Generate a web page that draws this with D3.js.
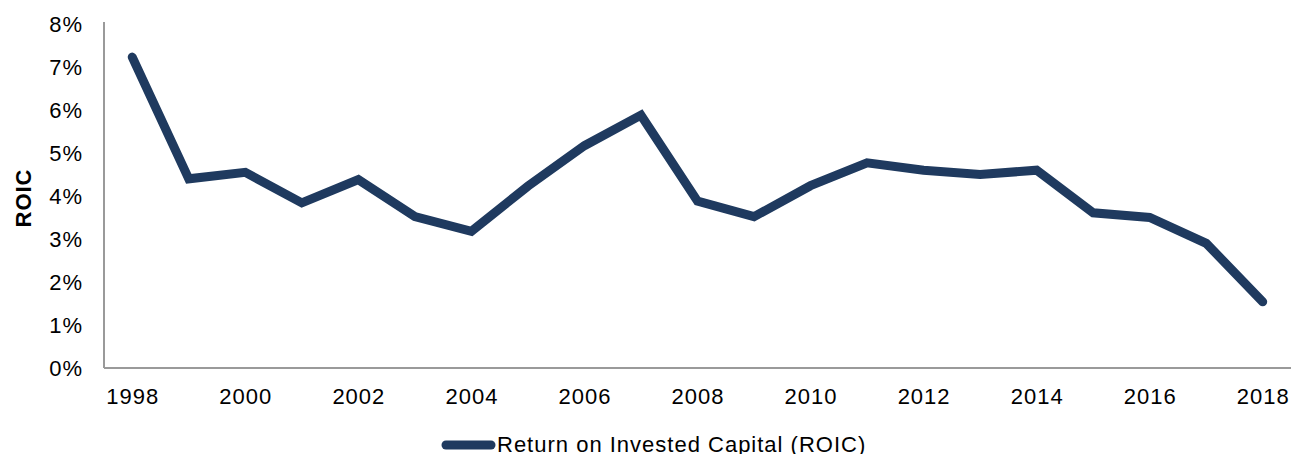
<!DOCTYPE html>
<html>
<head>
<meta charset="utf-8">
<script src="https://cdn.jsdelivr.net/npm/d3@7"></script>
<style>
  body { margin: 0; background: #fff; }
  text { font-family: "Liberation Sans", Arial, sans-serif; fill: #000; }
</style>
</head>
<body>
<div id="chart"></div>
<script>
// data
var years = ["1998","1999","2000","2001","2002","2003","2004","2005","2006","2007","2008",
             "2009","2010","2011","2012","2013","2014","2015","2016","2017","2018"];
var roic = [7.23, 4.40, 4.55, 3.84, 4.38, 3.52, 3.18, 4.23, 5.17, 5.88, 3.88,
            3.52, 4.24, 4.77, 4.60, 4.50, 4.60, 3.61, 3.50, 2.90, 1.54];
var yTicks = [0, 1, 2, 3, 4, 5, 6, 7, 8];
var xLabels = ["1998","2000","2002","2004","2006","2008","2010","2012","2014","2016","2018"];
var seriesName = "Return on Invested Capital (ROIC)";

var svgWidth = 1292, svgHeight = 454;
var margin = {top: 24, right: 1, bottom: 86, left: 104};
var chartWidth = svgWidth - margin.left - margin.right;
var chartHeight = svgHeight - margin.top - margin.bottom;

var svg = d3.select("#chart").append("svg")
    .attr("width", svgWidth)
    .attr("height", svgHeight);

var chartGroup = svg.append("g")
    .attr("transform", `translate(${margin.left}, ${margin.top})`);

var x = d3.scalePoint()
    .domain(years)
    .range([0, chartWidth])
    .padding(0.5);

var y = d3.scaleLinear()
    .domain([0, 8])
    .range([chartHeight, 0]);

// y axis
var yAxis = d3.axisLeft(y)
    .tickValues(yTicks)
    .tickSize(0)
    .tickPadding(21)
    .tickFormat(d => d + "%");
var yg = chartGroup.append("g").call(yAxis);
yg.select(".domain").attr("stroke", "#9a9a9a").attr("stroke-width", 2).attr("d", `M0,-2V${chartHeight}`);
yg.selectAll("text").style("font-size", "22px").style("letter-spacing", "1px").attr("dy", "0.35em");

// x axis
var xAxis = d3.axisBottom(x)
    .tickValues(xLabels)
    .tickSize(0)
    .tickPadding(20);
var xg = chartGroup.append("g")
    .attr("transform", `translate(0, ${chartHeight})`)
    .call(xAxis);
xg.select(".domain").attr("stroke", "#9a9a9a").attr("stroke-width", 2).attr("d", `M0,0H${chartWidth}`);
xg.selectAll("text").style("font-size", "22px").style("letter-spacing", "1px");

// line
var line = d3.line()
    .x((d, i) => x(years[i]))
    .y(d => y(d));

chartGroup.append("path")
    .datum(roic)
    .attr("fill", "none")
    .attr("stroke", "#1f3a5f")
    .attr("stroke-width", 9)
    .attr("stroke-linejoin", "miter")
    .attr("stroke-linecap", "round")
    .attr("d", line);

// y label
svg.append("text")
    .attr("transform", `translate(31, ${margin.top + chartHeight / 2 + 2}) rotate(-90)`)
    .attr("text-anchor", "middle")
    .style("font-size", "22px")
    .style("font-weight", "bold")
    .style("letter-spacing", "1px")
    .text("ROIC");

// legend
var legend = svg.append("g").attr("transform", "translate(446, 445)");
legend.append("line")
    .attr("x1", 0).attr("x2", 45)
    .attr("y1", 0).attr("y2", 0)
    .attr("stroke", "#1f3a5f")
    .attr("stroke-width", 9)
    .attr("stroke-linecap", "round");
legend.append("text")
    .attr("x", 51)
    .attr("y", 7)
    .style("font-size", "22px")
    .style("letter-spacing", "1px")
    .text(seriesName);
</script>
</body>
</html>
